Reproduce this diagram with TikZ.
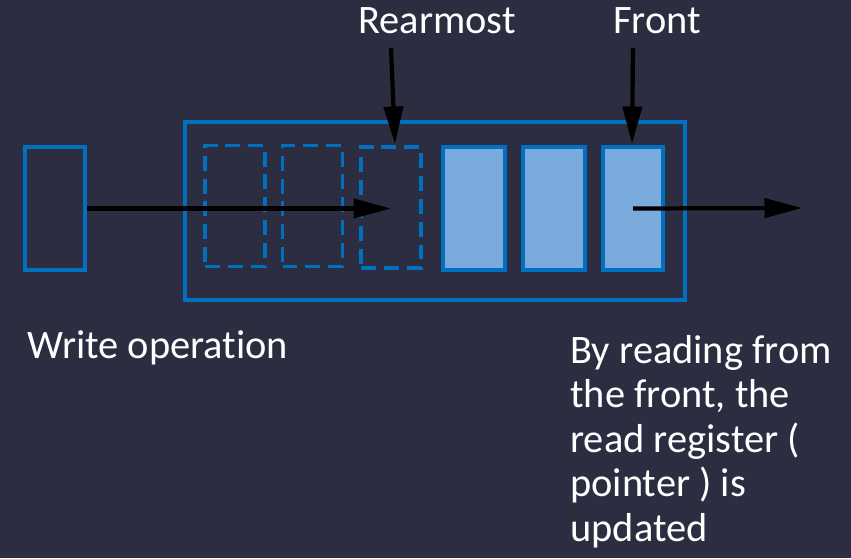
\documentclass[tikz,border=0pt]{standalone}
\usepackage{fontspec}
\setmainfont{Carlito}[Ligatures=NoCommon]
\usepackage{xcolor}
\usetikzlibrary{arrows.meta}

\definecolor{bgdark}{HTML}{2C2D40}
\definecolor{qblue}{HTML}{0070C0}
\definecolor{qfill}{HTML}{7BAADC}

\tikzset{
  cell/.style={draw=qblue, line width=2pt, inner sep=0pt, minimum width=1.2cm, minimum height=2.42cm},
  emptycell/.style={cell, dash pattern=on 8.5pt off 4.5pt},
  fullcell/.style={cell, fill=qfill},
  ptr/.style={line width=2.4pt, -{Triangle[length=0.75cm, width=0.38cm]}},
  lbl/.style={text=white, font=\fontsize{23}{25.3}\selectfont}
}

\begin{document}
\begin{tikzpicture}
					% Background and bounds
					\fill[bgdark] (0,0) rectangle (17.02,11.16);
					\useasboundingbox (0,0) rectangle (17.02,11.16);
					
					% Queue buffer
					\node[draw=qblue, line width=2pt, minimum width=10cm, minimum height=3.56cm] (buf) at (8.7,6.94) {};
					
					% Empty slots
					\node[emptycell] (slot1) at (4.7,7.04) {};
					\node[emptycell] (slot2) at (6.25,7.04) {};
					\node[emptycell] (slot3) at (7.82,7.01) {};
					
					% Occupied slots
					\node[fullcell, minimum width=1.24cm, minimum height=2.46cm] (full1) at (9.48,6.99) {};
					\node[fullcell, minimum width=1.24cm, minimum height=2.46cm] (full2) at (11.08,6.99) {};
					\node[fullcell, minimum width=1.2cm, minimum height=2.46cm] (full3) at (12.66,6.99) {};
					
					% Incoming item
					\node[cell, minimum height=2.46cm] (src) at (1.1,6.99) {};
					\coordinate (out) at (16.04,7.0);
					
					% Labels
					\node[lbl] (rear) at (8.74,10.74) {Rearmost};
					\node[lbl] (front) at (13.14,10.74) {Front};
					\node[lbl, anchor=west] (wr) at (0.42,4.2) {Write operation};
					\node[lbl, anchor=north west, align=left, inner sep=0pt] (rd) at (11.4,4.46)
						{By reading from\\the front, the\\read register (\\pointer ) is\\updated};
					
					% Pointers
					\draw[ptr] (src.east) -- (slot3.center |- src.east);
					\draw[ptr] (full3.center) -- (out);
					\draw[ptr] (slot3.north |- 0,10.2) -- (7.9,8.28);
					\draw[ptr] (full3.north |- 0,10.2) -- (12.64,8.28);
				\end{tikzpicture}
\end{document}
